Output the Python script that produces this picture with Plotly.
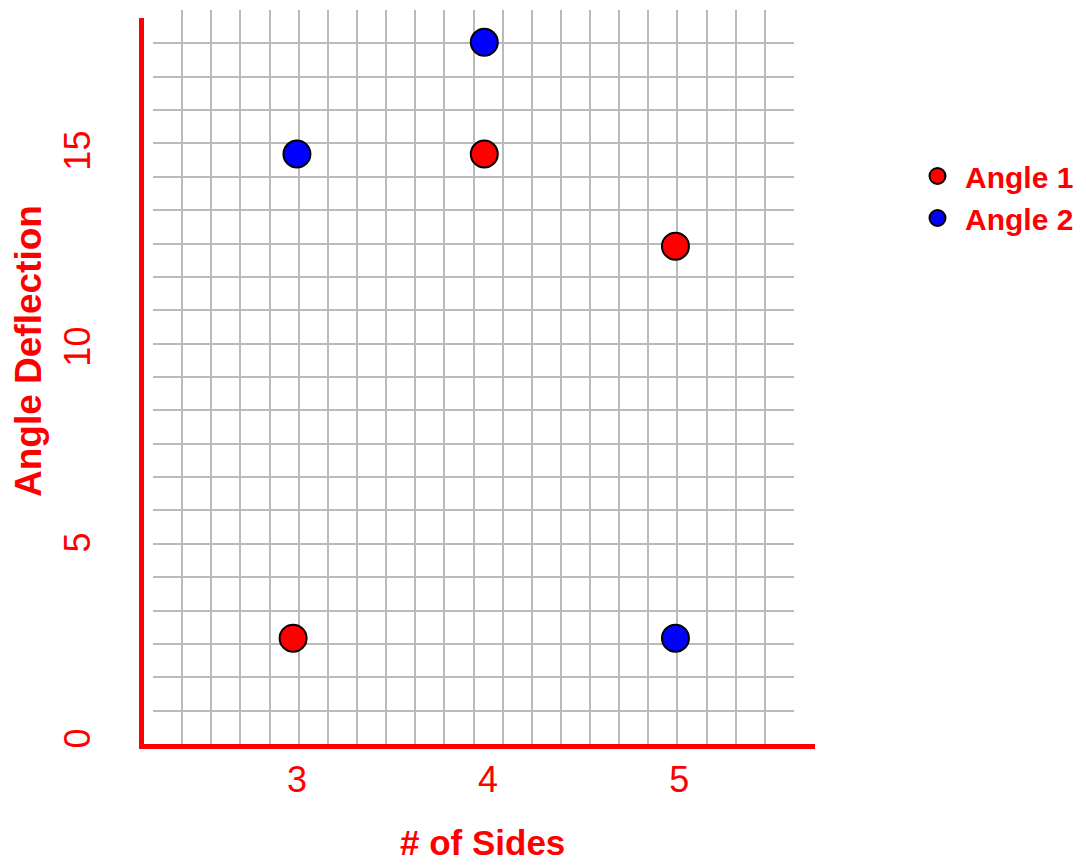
import plotly.graph_objects as go

# ---- data ----
series_names = ["Angle 1", "Angle 2"]
angle1_x = [2.98, 3.98, 4.98]
angle1_y = [2.7, 15.05, 12.7]
angle2_x = [3.0, 3.98, 4.98]
angle2_y = [15.05, 17.9, 2.7]
x_ticks = [3, 4, 5]
y_ticks = [0, 5, 10, 15]
grid_cells = 22  # graph-paper background cells per side
x_title = "# of Sides"
y_title = "Angle Deflection"

RED = "#ff0000"
BLUE = "#0000ff"
FONT = "Liberation Sans, Arial, sans-serif"

fig = go.Figure()

# invisible trace just to establish the graph-paper subplot (xaxis/yaxis)
fig.add_trace(go.Scatter(x=[None], y=[None], xaxis="x", yaxis="y",
                         showlegend=False, hoverinfo="skip"))

for name, xs, ys, col in [(series_names[0], angle1_x, angle1_y, RED),
                          (series_names[1], angle2_x, angle2_y, BLUE)]:
    fig.add_trace(go.Scatter(
        x=xs, y=ys, name=name, mode="markers", xaxis="x2", yaxis="y2",
        marker=dict(size=27, color=col, line=dict(color="black", width=2)),
        cliponaxis=False,
    ))

OFF = 8  # page body margin in the browser
W, H = 1086 - OFF, 865 - OFF
ml, mr, mt, mb = 144 - OFF, 271, 10 - OFF, 121
pw = W - ml - mr
ph = H - mt - mb

grid_axis = dict(range=[0, grid_cells], dtick=1, tick0=0, showticklabels=False,
                 showgrid=True, gridcolor="#bababa", gridwidth=2, zeroline=False,
                 showline=False, ticks="", fixedrange=True)

fig.update_layout(
    width=W, height=H,
    margin=dict(l=ml, r=mr, t=mt, b=mb, autoexpand=False),
    paper_bgcolor="white",
    plot_bgcolor="rgba(0,0,0,0)",
    font=dict(family=FONT, color=RED),
    xaxis=dict(grid_axis, domain=[9 / pw, 650 / pw], anchor="y"),
    yaxis=dict(grid_axis, domain=[0, 1], anchor="x"),
    xaxis2=dict(
        domain=[0, 1], anchor="y2", range=[2.2, 5.71],
        tickvals=x_ticks, ticktext=[str(v) for v in x_ticks],
        showgrid=False, zeroline=False,
        showline=True, linecolor=RED, linewidth=5,
        ticks="", ticklabelstandoff=0,
        tickfont=dict(size=36, color=RED, family=FONT),
    ),
    yaxis2=dict(
        domain=[0, 726 / ph], anchor="x2", range=[0, 18.52],
        tickvals=y_ticks, ticktext=[str(v) for v in y_ticks],
        showgrid=False, zeroline=False,
        showline=True, linecolor=RED, linewidth=5,
        ticks="", tickangle=-90, ticklabelstandoff=35,
        tickfont=dict(size=36, color=RED, family=FONT),
    ),
    legend=dict(x=(910 - 144) / pw, y=(734 - 140) / ph, xanchor="left", yanchor="top",
                font=dict(size=30, color=RED, family=FONT, weight="bold"),
                itemsizing="trace", tracegroupgap=0, itemwidth=45,
                bgcolor="rgba(0,0,0,0)"),
    annotations=[
        dict(text=f"<b>{x_title}</b>", xref="paper", yref="paper",
             x=(483 - 144) / pw, y=-(842 - 744) / ph, xanchor="center", yanchor="middle",
             showarrow=False, borderpad=0, font=dict(size=35, color=RED, family=FONT)),
        dict(text=f"<b>{y_title}</b>", xref="paper", yref="paper", textangle=-90,
             x=-(144 - 28) / pw, y=(744 - 351) / ph, xanchor="center", yanchor="middle",
             showarrow=False, font=dict(size=37, color=RED, family=FONT)),
    ],
)

fig.write_html("out.html")
